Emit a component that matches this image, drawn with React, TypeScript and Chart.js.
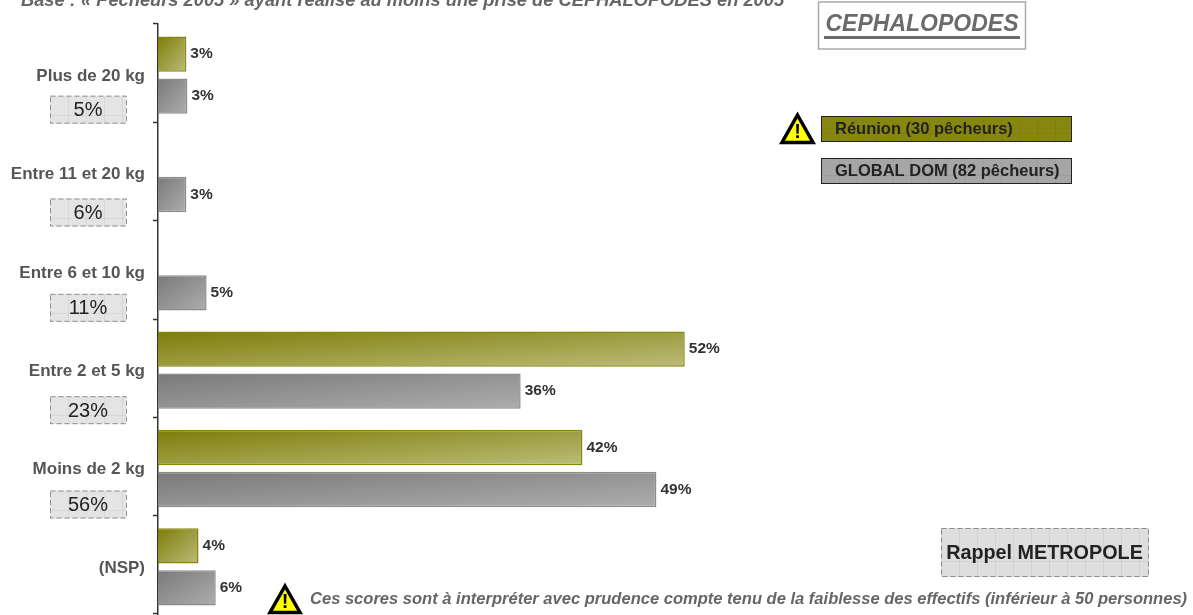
import React, { useEffect, useRef } from "react";
import { Chart, registerables } from "chart.js";

Chart.register(...registerables);

const categories = ["Plus de 20 kg", "Entre 11 et 20 kg", "Entre 6 et 10 kg", "Entre 2 et 5 kg", "Moins de 2 kg", "(NSP)"];
const reunion = [2.8, null, null, 52, 41.9, 4];
const globalDom = [2.9, 2.8, 4.8, 35.8, 49.2, 5.7];
const metropole = ["5%", "6%", "11%", "23%", "56%", null];
const seriesNames = ["Réunion (30 pêcheurs)", "GLOBAL DOM (82 pêcheurs)"];
const baseText = "Base : « Pêcheurs 2005 » ayant réalisé au moins une prise de CEPHALOPODES en 2005";
const titleText = "CEPHALOPODES";
const footText = "Ces scores sont à interpréter avec prudence compte tenu de la faiblesse des effectifs (inférieur à 50 personnes)";
const rappelText = "Rappel METROPOLE";

const FONT = '"Liberation Sans", Arial, sans-serif';
const BOX_OFFSET = [36.5, 41, 38, 42, 38];
const BAR_SHIFT = 21;
const BAR_H = 35;
const BARS_DOWN = 2;

function gradientFor(c: any, from: string, to: string, sign: number) {
  const { chart, dataIndex, raw } = c;
  const sx = chart.scales?.x;
  const sy = chart.scales?.y;
  if (!sx || !sy || raw == null) return from;
  const x = sx.getPixelForValue(0);
  const w = sx.getPixelForValue(raw) - x;
  const y = sy.getPixelForValue(dataIndex) + sign * BAR_SHIFT - BAR_H / 2;
  const h = BAR_H;
  const k = (2 * w * h) / (w * w + h * h);
  if (![x, y, w, k].every(Number.isFinite)) return from;
  const g = chart.ctx.createLinearGradient(x, y, x + h * k, y + w * k);
  g.addColorStop(0, from);
  g.addColorStop(1, to);
  return g;
}

function triangle(ctx: CanvasRenderingContext2D, x: number, y: number, w: number, h: number) {
  ctx.save();
  ctx.beginPath();
  ctx.moveTo(x + w / 2, y + 3);
  ctx.lineTo(x + w - 3, y + h - 2.5);
  ctx.lineTo(x + 3, y + h - 2.5);
  ctx.closePath();
  ctx.fillStyle = "#ffff00";
  ctx.fill();
  ctx.strokeStyle = "#000";
  ctx.lineWidth = 3.5;
  ctx.lineJoin = "miter";
  ctx.stroke();
  ctx.fillStyle = "#000";
  ctx.font = `bold ${Math.round(h * 0.62)}px ${FONT}`;
  ctx.textAlign = "center";
  ctx.textBaseline = "middle";
  ctx.fillText("!", x + w / 2, y + h * 0.62);
  ctx.restore();
}

function texture(ctx: CanvasRenderingContext2D, x: number, y: number, w: number, h: number) {
  ctx.save();
  ctx.strokeStyle = "rgba(0,0,0,0.05)";
  ctx.lineWidth = 1;
  ctx.beginPath();
  for (let px = x + 18; px < x + w; px += 18) {
    ctx.moveTo(px + 0.5, y);
    ctx.lineTo(px + 0.5, y + h);
  }
  const my = Math.round(y + h * 0.68) + 0.5;
  ctx.moveTo(x, my);
  ctx.lineTo(x + w, my);
  ctx.stroke();
  ctx.restore();
}

const decorations = {
  id: "decorations",
  beforeDatasetsDraw(chart: any) {
    chart.ctx.save();
    chart.ctx.translate(0, BARS_DOWN);
  },
  afterDatasetsDraw(chart: any) {
    const ctx: CanvasRenderingContext2D = chart.ctx;
    ctx.restore();
    const sy = chart.scales.y;
    ctx.save();
    ctx.textBaseline = "middle";

    // value labels
    ctx.font = `bold 15.5px ${FONT}`;
    ctx.fillStyle = "#333";
    ctx.textAlign = "left";
    chart.data.datasets.forEach((ds: any, di: number) => {
      chart.getDatasetMeta(di).data.forEach((bar: any, i: number) => {
        if (ds.data[i] == null) return;
        ctx.fillText(`${Math.round(ds.data[i])}%`, bar.x + 4, bar.y + BARS_DOWN);
      });
    });

    // métropole boxes
    metropole.forEach((t, i) => {
      if (!t) return;
      const cy = sy.getPixelForValue(i) + BOX_OFFSET[i];
      ctx.fillStyle = "#e4e4e4";
      ctx.fillRect(50, cy - 14, 76, 28);
      texture(ctx, 50, cy - 14, 76, 28);
      ctx.setLineDash([5, 3]);
      ctx.strokeStyle = "#8f8f8f";
      ctx.lineWidth = 1;
      ctx.strokeRect(50.5, cy - 13.5, 76, 27);
      ctx.setLineDash([]);
      ctx.fillStyle = "#222";
      ctx.font = `20px ${FONT}`;
      ctx.textAlign = "center";
      ctx.fillText(t, 88, cy + 1);
    });

    // base line
    ctx.textAlign = "left";
    ctx.fillStyle = "#666";
    ctx.font = `italic bold 18.3px ${FONT}`;
    ctx.fillText(baseText, 21, 1);

    // title box
    ctx.strokeStyle = "#aaa";
    ctx.lineWidth = 1.5;
    ctx.strokeRect(818.5, 2, 207, 47);
    ctx.fillStyle = "#6b6b6b";
    ctx.font = `italic bold 23px ${FONT}`;
    ctx.textAlign = "center";
    ctx.fillText(titleText, 922, 25);
    ctx.fillRect(824, 36, 196, 3);

    // legend
    triangle(ctx, 779, 112, 37, 33);
    const legendFill = ["#87870f", "#a6a6a6"];
    const legendY = [116, 158];
    seriesNames.forEach((n, i) => {
      ctx.fillStyle = legendFill[i];
      ctx.fillRect(821, legendY[i], 250, 25);
      texture(ctx, 821, legendY[i], 250, 25);
      ctx.strokeStyle = "#222";
      ctx.lineWidth = 1;
      ctx.strokeRect(821.5, legendY[i] + 0.5, 250, 25);
      ctx.fillStyle = "#222";
      ctx.font = `bold 16.5px ${FONT}`;
      ctx.textAlign = "left";
      ctx.fillText(n, 835, legendY[i] + 13);
    });

    // rappel box
    ctx.fillStyle = "#dedede";
    ctx.fillRect(941, 528, 208, 49);
    texture(ctx, 941, 528, 208, 49);
    ctx.setLineDash([5, 3]);
    ctx.strokeStyle = "#888";
    ctx.strokeRect(941.5, 528.5, 207, 48);
    ctx.setLineDash([]);
    ctx.fillStyle = "#222";
    ctx.font = `bold 19.8px ${FONT}`;
    ctx.textAlign = "center";
    ctx.fillText(rappelText, 1044.5, 554);

    // footnote
    triangle(ctx, 267, 583, 36, 32);
    ctx.fillStyle = "#666";
    ctx.font = `italic bold 16.55px ${FONT}`;
    ctx.textAlign = "left";
    ctx.fillText(footText, 310, 599);
    ctx.restore();
  },
};

export default function App() {
  const ref = useRef<HTMLCanvasElement>(null);
  useEffect(() => {
    const chart = new Chart(ref.current!, {
      type: "bar",
      data: {
        labels: categories,
        datasets: [
          {
            label: seriesNames[0],
            data: reunion,
            backgroundColor: (c: any) => gradientFor(c, "#7d7d0a", "#bcbc78", -1),
            borderColor: "#87870f",
            borderWidth: 1.5,
          },
          {
            label: seriesNames[1],
            data: globalDom,
            backgroundColor: (c: any) => gradientFor(c, "#7a7a7a", "#adadad", 1),
            borderColor: "#8c8c8c",
            borderWidth: 1.5,
          },
        ],
      } as any,
      options: {
        indexAxis: "y",
        responsive: false,
        animation: false,
        categoryPercentage: 0.855,
        barPercentage: 0.84,
        layout: { padding: { top: 24, bottom: 1, right: 22, left: 0 } },
        plugins: { legend: { display: false }, tooltip: { enabled: false } },
        scales: {
          x: { display: false, min: 0, max: 100 },
          y: {
            afterFit: (s: any) => { s.width = 158; s.paddingTop = 0; s.paddingBottom = 0; },
            border: { color: "#333", width: 1.5 },
            grid: { offset: true, drawOnChartArea: false, tickLength: 5, tickColor: "#333", tickWidth: 1.5 },
            ticks: { color: "#555", padding: 8, labelOffset: 3, font: { family: FONT, weight: "bold", size: 17 } },
          },
        },
      } as any,
      plugins: [decorations],
    });
    return () => chart.destroy();
  }, []);
  return (
    <canvas
      ref={ref}
      width={1193}
      height={615}
      style={{ position: "fixed", left: 0, top: 0, display: "block", background: "#fff", filter: "blur(0.45px)" }}
    />
  );
}
